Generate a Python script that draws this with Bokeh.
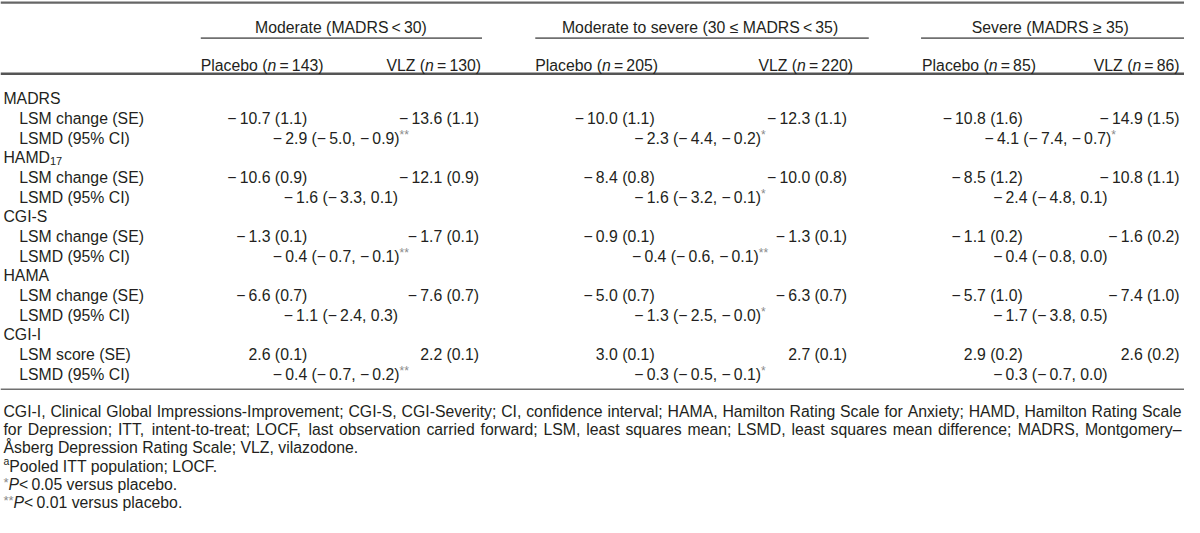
from bokeh.plotting import figure
from bokeh.models import Range1d, ColumnDataSource
from bokeh.core.properties import value
from bokeh.embed import file_html
from bokeh.resources import INLINE

# ---------------- data ----------------
group_names = ["Moderate (MADRS\u2009<\u200930)", "Moderate to severe (30 \u2264 MADRS\u2009<\u200935)", "Severe (MADRS \u2265 35)"]
n_placebo = [143, 205, 85]
n_vlz = [130, 220, 86]
measures = ["MADRS", "HAMD", "CGI-S", "HAMA", "CGI-I"]
measure_sub = ["", "17", "", "", ""]
stat_labels = ["LSM change (SE)", "LSM change (SE)", "LSM change (SE)", "LSM change (SE)", "LSM score (SE)"]
lsmd_label = "LSMD (95% CI)"

placebo_lsm = [[-10.7, -10.0, -10.8], [-10.6, -8.4, -8.5], [-1.3, -0.9, -1.1], [-6.6, -5.0, -5.7], [2.6, 3.0, 2.9]]
placebo_se = [[1.1, 1.1, 1.6], [0.9, 0.8, 1.2], [0.1, 0.1, 0.2], [0.7, 0.7, 1.0], [0.1, 0.1, 0.2]]
vlz_lsm = [[-13.6, -12.3, -14.9], [-12.1, -10.0, -10.8], [-1.7, -1.3, -1.6], [-7.6, -6.3, -7.4], [2.2, 2.7, 2.6]]
vlz_se = [[1.1, 1.1, 1.5], [0.9, 0.8, 1.1], [0.1, 0.1, 0.2], [0.7, 0.7, 1.0], [0.1, 0.1, 0.2]]
lsmd = [[-2.9, -2.3, -4.1], [-1.6, -1.6, -2.4], [-0.4, -0.4, -0.4], [-1.1, -1.3, -1.7], [-0.4, -0.3, -0.3]]
ci_low = [[-5.0, -4.4, -7.4], [-3.3, -3.2, -4.8], [-0.7, -0.6, -0.8], [-2.4, -2.5, -3.8], [-0.7, -0.5, -0.7]]
ci_high = [[-0.9, -0.2, -0.7], [0.1, -0.1, 0.1], [-0.1, -0.1, 0.0], [0.3, -0.0, 0.5], [-0.2, -0.1, 0.0]]
sig = [["**", "*", "*"], ["", "*", ""], ["**", "**", ""], ["", "*", ""], ["**", "*", ""]]

footnote_lines = [
    "CGI-I, Clinical Global Impressions-Improvement; CGI-S, CGI-Severity; CI, confidence interval; HAMA, Hamilton Rating Scale for Anxiety; HAMD, Hamilton Rating Scale",
    "for Depression; ITT, intent-to-treat; LOCF, last observation carried forward; LSM, least squares mean; LSMD, least squares mean difference; MADRS, Montgomery\u2013",
    "\u00c5sberg Depression Rating Scale; VLZ, vilazodone.",
]
footnote_a = "Pooled ITT population; LOCF."
footnote_p = [("*", "<\u20090.05 versus placebo."), ("**", "<\u20090.01 versus placebo.")]

# ---------------- layout (reference pixel space) ----------------
W_FIG, H_FIG = 1184, 517
X0, X1 = 0, 1200
Y0, Y1 = 0, 536
sx = W_FIG / (X1 - X0)
sy = H_FIG / (Y1 - Y0)

FONT = "Liberation Sans"
TXT = "#231f20"
GRAY = "#8a8a8a"
RULE = "#707070"
FS = 15.8

ul_x0 = [203, 542, 933]
ul_x1 = [488, 880, 1200]
grp_cx = [345, 709, 1064]
plc_lab_left = [203, 542, 934]
vlz_lab_right = [487, 864, 1195]
plc_val_right = [311, 663, 1036]
vlz_val_right = [485, 858, 1195]

Y_GRP, Y_UL, Y_COL, Y_RULE2 = 22, 39, 62, 76
Y_ROW0, ROW_DY = 96, 20.4
Y_RULE3 = 403
Y_FOOT0, FOOT_DY = 420, 19.0
BASE = 5.6 / sy

AW = {' ': 278, '!': 278, '%': 889, '(': 333, ')': 333, '*': 389, ',': 278, '-': 333, '.': 278,
      ':': 278, ';': 278, '<': 584, '=': 584, '>': 584,
      'A': 667, 'B': 667, 'C': 722, 'D': 722, 'E': 667, 'F': 611, 'G': 778, 'H': 722, 'I': 278,
      'J': 500, 'K': 667, 'L': 556, 'M': 833, 'N': 722, 'O': 778, 'P': 667, 'Q': 778, 'R': 722,
      'S': 667, 'T': 611, 'U': 722, 'V': 667, 'W': 944, 'X': 667, 'Y': 667, 'Z': 611,
      'a': 556, 'b': 556, 'c': 500, 'd': 556, 'e': 556, 'f': 278, 'g': 556, 'h': 556, 'i': 222,
      'j': 222, 'k': 500, 'l': 222, 'm': 833, 'n': 556, 'o': 556, 'p': 556, 'q': 556, 'r': 333,
      's': 500, 't': 278, 'u': 556, 'v': 500, 'w': 722, 'x': 500, 'y': 500, 'z': 500,
      '\u2013': 556, '\u2014': 1000, '\u2212': 584, '\u2264': 549, '\u2265': 549, '\u00c5': 667,
      '\u2009': 200, '\u200a': 83}


def tw(s, size):
    """text width in reference x units"""
    return sum(AW.get(ch, 556) for ch in s) * size / 1000.0 / sx


def fmt(v):
    return f"{v:.1f}".replace("-", "\u2212\u2009")


items = {}


def add(x, y, text, align="left", size=FS, style="normal", color=TXT):
    key = (align, size, style, color)
    d = items.setdefault(key, {"x": [], "y": [], "text": []})
    d["x"].append(x)
    d["y"].append(y + BASE)
    d["text"].append(text)


def seq(x, y, pieces, align="left"):
    total = sum(tw(t, s) for t, s, st, c, dy in pieces)
    if align == "center":
        x = x - total / 2
    elif align == "right":
        x = x - total
    for t, s, st, c, dy in pieces:
        add(x, y + dy, t, "left", s, st, c)
        x += tw(t, s)


p = figure(width=W_FIG, height=H_FIG, x_range=Range1d(X0, X1), y_range=Range1d(Y1, Y0),
           output_backend="svg", toolbar_location=None, min_border=0)
p.axis.visible = False
p.grid.visible = False
p.outline_line_color = None
p.background_fill_color = "white"
p.border_fill_color = "white"

# rules
p.segment(x0=[X0], y0=[2.2], x1=[X1], y1=[2.2], line_color="#666666", line_width=2.2)
p.segment(x0=ul_x0, y0=[Y_UL] * 3, x1=ul_x1, y1=[Y_UL] * 3, line_color=RULE, line_width=1.6)
p.segment(x0=[X0], y0=[Y_RULE2], x1=[X1], y1=[Y_RULE2], line_color="#555555", line_width=2.6)
p.segment(x0=[X0], y0=[Y_RULE3], x1=[X1], y1=[Y_RULE3], line_color=RULE, line_width=1.6)

# headers
for g in range(3):
    add(grp_cx[g], Y_GRP, group_names[g], "center")
    seq(plc_lab_left[g], Y_COL, [("Placebo (", FS, "normal", TXT, 0),
                                 ("n", FS, "italic", TXT, 0),
                                 (f"\u2009=\u2009{n_placebo[g]})", FS, "normal", TXT, 0)])
    seq(vlz_lab_right[g], Y_COL, [("VLZ (", FS, "normal", TXT, 0),
                                  ("n", FS, "italic", TXT, 0),
                                  (f"\u2009=\u2009{n_vlz[g]})", FS, "normal", TXT, 0)], "right")

# body
for m in range(len(measures)):
    y_m = Y_ROW0 + 3 * m * ROW_DY
    y_s = y_m + ROW_DY
    y_d = y_m + 2 * ROW_DY
    if measure_sub[m]:
        seq(3, y_m, [(measures[m], FS, "normal", TXT, 0),
                     (measure_sub[m], 11, "normal", TXT, 3.5)])
    else:
        add(3, y_m, measures[m])
    add(19, y_s, stat_labels[m])
    add(19, y_d, lsmd_label)
    for g in range(3):
        add(plc_val_right[g], y_s, f"{fmt(placebo_lsm[m][g])} ({fmt(placebo_se[m][g])})", "right")
        add(vlz_val_right[g], y_s, f"{fmt(vlz_lsm[m][g])} ({fmt(vlz_se[m][g])})", "right")
        main = f"{fmt(lsmd[m][g])} ({fmt(ci_low[m][g])}, {fmt(ci_high[m][g])})"
        pcs = [(main, FS, "normal", TXT, 0)]
        if sig[m][g]:
            pcs.append((sig[m][g], 12, "normal", GRAY, -3))
        seq(grp_cx[g], y_d, pcs, "center")

# footnotes
target = 1197 - 3
nat = max(tw(l, 1000) for l in footnote_lines[:2])
FS_FOOT = min(FS, target / nat * 1000 * 0.998)
for i, line in enumerate(footnote_lines):
    y = Y_FOOT0 + i * FOOT_DY
    if i < 2:
        words = line.split(" ")
        ww = [tw(w, FS_FOOT) for w in words]
        gap = (target - sum(ww)) / (len(words) - 1)
        x = 3
        for w, wd in zip(words, ww):
            add(x, y, w, "left", FS_FOOT)
            x += wd + gap
    else:
        add(3, y, line, "left", FS_FOOT)

y = Y_FOOT0 + 3 * FOOT_DY
seq(3, y, [("a", 10.5, "normal", TXT, -5), (footnote_a, FS_FOOT, "normal", TXT, 0)])
for k, (stars, rest) in enumerate(footnote_p):
    y = Y_FOOT0 + (4 + k) * FOOT_DY
    seq(3, y, [(stars, 13, "normal", GRAY, -2), ("P", FS_FOOT, "italic", TXT, 0),
               (rest, FS_FOOT, "normal", TXT, 0)])

for (align, size, style, color), d in items.items():
    src = ColumnDataSource(d)
    p.text(x="x", y="y", text="text", source=src, text_align=align, text_baseline="alphabetic",
           text_font=value(FONT), text_font_size=f"{size:.2f}px", text_font_style=style,
           text_color=color)

open("out.html", "w").write(file_html(p, INLINE))
